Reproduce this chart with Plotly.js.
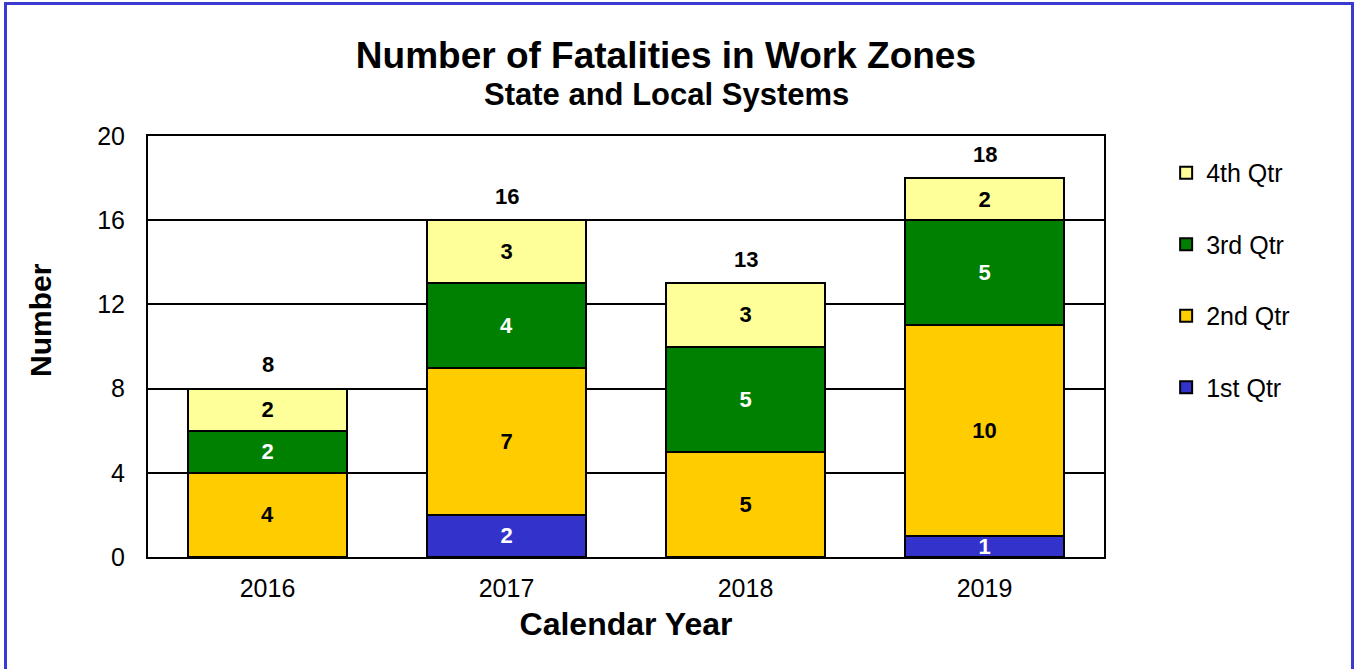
<!DOCTYPE html>
<html>
<head>
<meta charset="utf-8">
<script src="https://cdn.plot.ly/plotly-3.0.1.min.js"></script>
<style>
html,body{margin:0;padding:0;background:#fff;}
#wrap{position:relative;width:1359px;height:669px;overflow:hidden;}
#chart{position:absolute;left:0;top:0;width:1359px;height:669px;}
#frame{position:absolute;left:4px;top:2px;width:1350px;height:700px;border:3px solid #3a3ad0;box-sizing:border-box;pointer-events:none;}
</style>
</head>
<body>
<div id="wrap"><div id="chart"></div><div id="frame"></div></div>
<script>
const years = ['2016', '2017', '2018', '2019'];
const q1 = [0, 2, 0, 1];
const q2 = [4, 7, 5, 10];
const q3 = [2, 4, 5, 5];
const q4 = [2, 3, 3, 2];
const seriesNames = ['1st Qtr', '2nd Qtr', '3rd Qtr', '4th Qtr'];
const seriesColors = ['#3333cc', '#ffcc00', '#008000', '#ffff99'];
const textColors = ['#ffffff', '#000000', '#ffffff', '#000000'];
const yTicks = [0, 4, 8, 12, 16, 20];

const series = [q1, q2, q3, q4];
const totals = years.map((_, i) => series.reduce((s, arr) => s + arr[i], 0));

const font = 'Liberation Sans, Arial, sans-serif';

const traces = series.map((vals, k) => ({
  type: 'bar',
  name: seriesNames[k],
  legendgroup: 'g' + k,
  legendrank: 10 - k,
  x: years,
  y: vals,
  text: vals.map(v => v > 0 ? String(v) : ''),
  textposition: 'inside',
  insidetextanchor: 'middle',
  textangle: 0,
  constraintext: 'none',
  textfont: {family: font, size: 22, color: textColors[k], weight: 'bold'},
  marker: {color: seriesColors[k], line: {color: '#000000', width: 2}},
  hoverinfo: 'x+y+name'
}));

// total labels above each stack (x given as category index)
const totalAnnotations = totals.map((t, i) => ({
  xref: 'x', yref: 'y', x: i, y: t,
  text: '<b>' + t + '</b>', showarrow: false,
  xanchor: 'center', yanchor: 'middle', yshift: 24,
  font: {family: font, size: 22, color: '#000000'}
}));

const layout = {
  width: 1359, height: 669,
  margin: {l: 148, r: 255, t: 136, b: 112},
  paper_bgcolor: '#ffffff',
  plot_bgcolor: '#ffffff',
  barmode: 'stack',
  bargap: 0.335,
  font: {family: font, size: 25, color: '#000000'},
  title: {
    text: '<b>Number of Fatalities in Work Zones</b>',
    font: {family: font, size: 37, color: '#000000'},
    x: 0.49, xanchor: 'center', xref: 'container',
    y: 1 - 55 / 669, yanchor: 'middle', yref: 'container'
  },
  annotations: totalAnnotations.concat([{
    xref: 'paper', yref: 'paper',
    x: (666 - 148) / 956, y: 1 + (136 - 95) / 421,
    xanchor: 'center', yanchor: 'middle',
    text: '<b>State and Local Systems</b>', showarrow: false,
    font: {family: font, size: 31, color: '#000000'}
  }, {
    xref: 'paper', yref: 'paper',
    x: (40 - 148) / 956, y: (557 - 320) / 421,
    xanchor: 'center', yanchor: 'middle', textangle: -90,
    text: '<b>Number</b>', showarrow: false,
    font: {family: font, size: 30, color: '#000000'}
  }]),
  xaxis: {
    type: 'category',
    categoryorder: 'array',
    categoryarray: years,
    range: [-0.5, years.length - 0.5],
    showline: true, linecolor: '#000000', linewidth: 2, mirror: true,
    ticks: 'outside', ticklen: 8, tickcolor: 'rgba(0,0,0,0)',
    tickfont: {family: font, size: 25, color: '#000000'},
    title: {text: '<b>Calendar Year</b>', font: {family: font, size: 32, color: '#000000'}, standoff: 12},
    fixedrange: true
  },
  yaxis: {
    range: [0, 20],
    tickvals: yTicks,
    showgrid: true, gridcolor: '#000000', gridwidth: 2,
    showline: true, linecolor: '#000000', linewidth: 2, mirror: true,
    zeroline: false,
    ticks: 'outside', ticklen: 16, tickcolor: 'rgba(0,0,0,0)',
    tickfont: {family: font, size: 25, color: '#000000'},
    fixedrange: true
  },
  legend: {
    x: 1.065, xanchor: 'left', y: 0.967, yanchor: 'top',
    traceorder: 'grouped',
    tracegroupgap: 36,
    font: {family: font, size: 25, color: '#000000'},
    itemwidth: 30,
    bgcolor: 'rgba(0,0,0,0)'
  },
  showlegend: true
};

Plotly.newPlot('chart', traces, layout, {displayModeBar: false, staticPlot: true});
</script>
</body>
</html>
